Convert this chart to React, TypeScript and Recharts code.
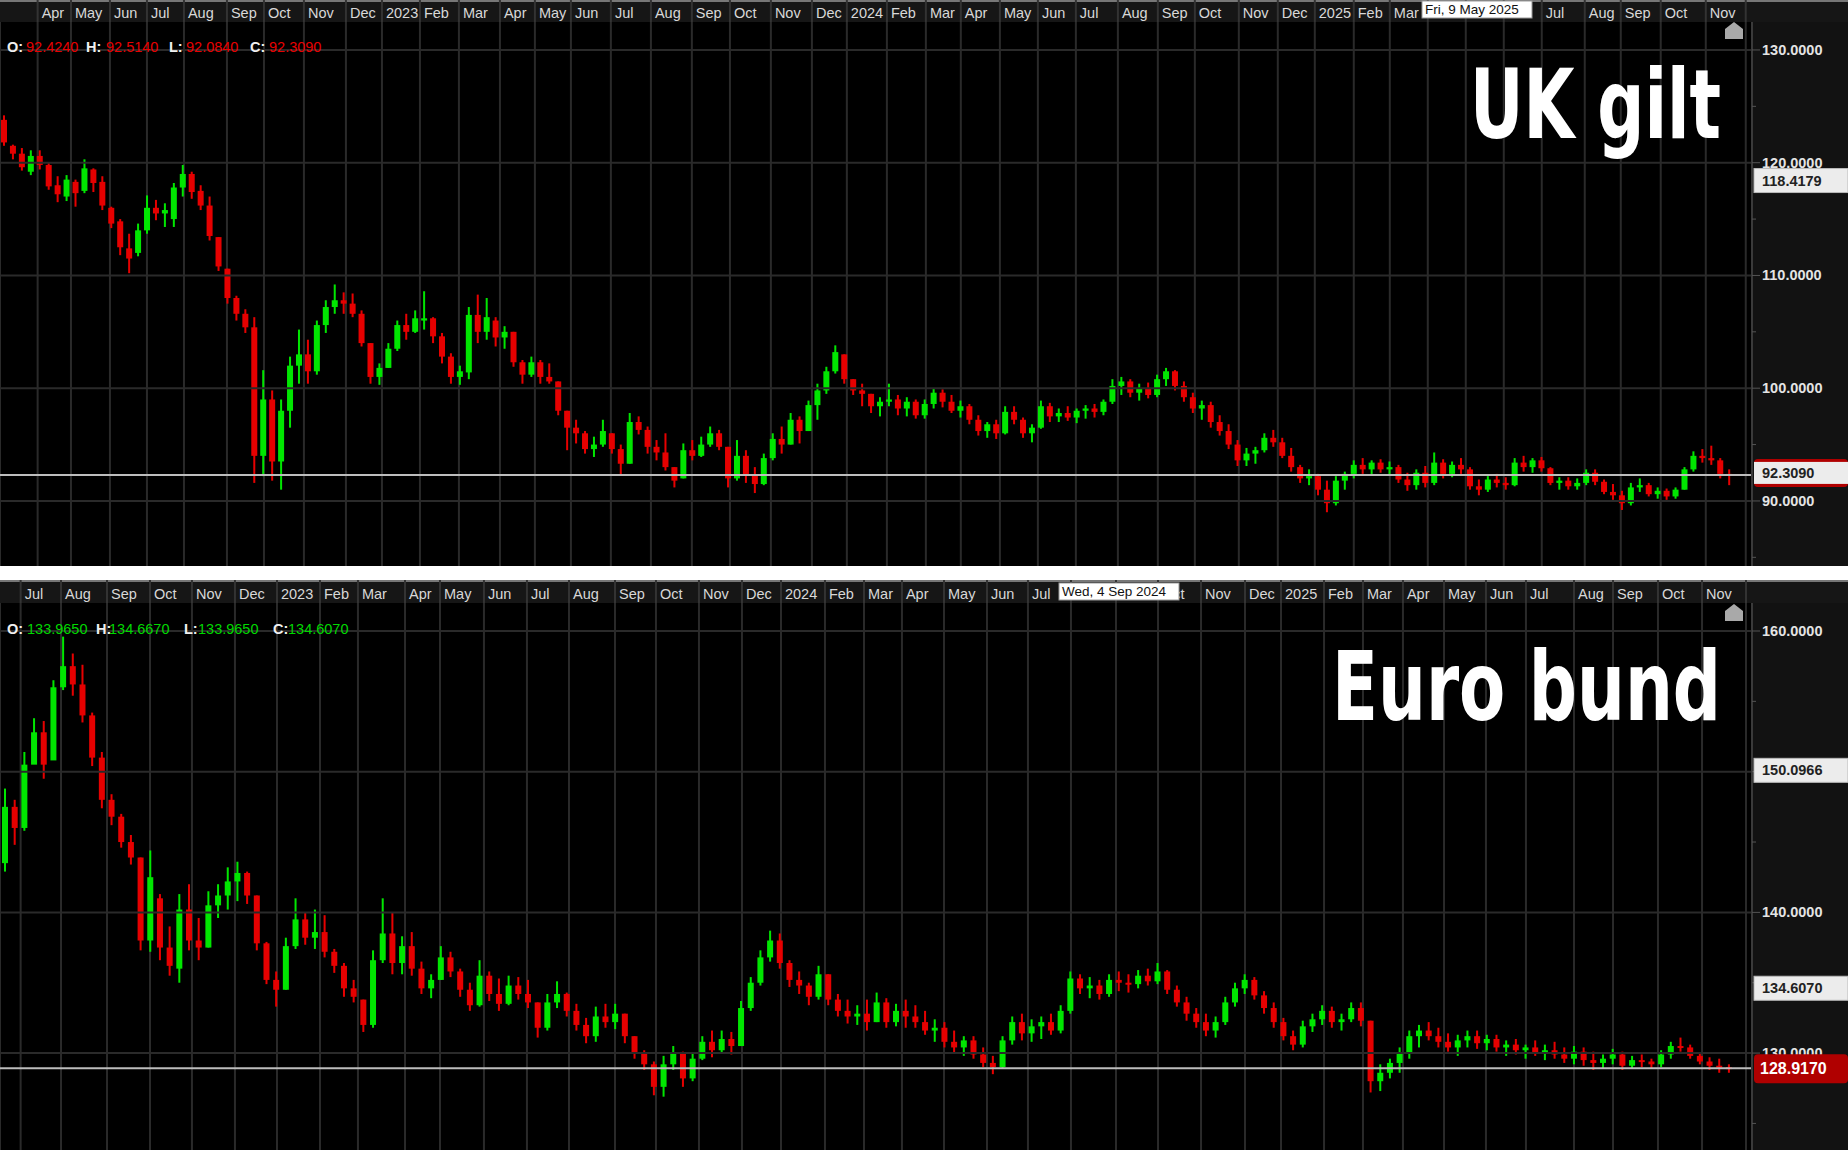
import React from 'react';
import { ComposedChart, Bar, XAxis, YAxis, CartesianGrid, ReferenceLine } from 'recharts';

// ---------- DATA (weekly OHLC: [open, high, low, close]) ----------
const giltBars: number[][] = [
  [123.8,124.2,121.5,121.8],[121.5,121.6,120.3,120.8],[120.8,121.3,119.3,119.6],[119.2,121.1,118.9,120.6],
  [120.6,121.1,119.4,119.8],[119.8,120.0,117.6,117.9],[118.0,118.8,116.5,117.2],[117.0,118.9,116.6,118.5],
  [118.3,118.5,116.1,117.3],[117.5,120.3,117.3,119.5],[119.4,119.5,117.4,118.2],[118.3,118.8,115.8,116.2],
  [116.0,116.1,114.2,114.6],[114.8,115.0,111.8,112.5],[112.4,113.7,110.2,111.5],[112.0,114.6,111.7,114.0],
  [114.0,117.1,113.7,116.0],[116.0,116.7,114.9,115.5],[115.5,116.4,114.3,115.8],[115.0,118.2,114.3,117.8],
  [117.8,119.8,117.0,119.0],[119.0,119.2,116.8,117.4],[117.5,118.0,115.8,116.2],[116.2,117.0,113.1,113.5],
  [113.4,113.4,110.4,110.8],[110.6,110.6,107.5,108.0],[108.0,108.2,106.0,106.6],[106.6,107.0,104.9,105.4],
  [105.4,106.3,91.6,94.0],[94.0,101.6,92.2,99.0],[99.0,99.8,91.8,93.5],[93.5,99.0,91.0,98.0],
  [98.0,102.8,96.5,102.0],[102.0,105.2,100.4,103.0],[103.0,104.3,100.4,101.5],[101.5,106.0,101.2,105.6],
  [105.6,107.8,104.9,107.2],[107.2,109.2,106.6,107.8],[107.8,108.5,106.6,107.5],[107.5,108.4,106.3,106.6],
  [106.6,106.9,103.7,104.0],[104.0,104.0,100.4,101.0],[101.0,102.2,100.3,101.8],[101.8,104.0,101.8,103.5],
  [103.5,106.0,103.3,105.6],[105.6,106.6,104.3,105.0],[105.0,106.9,104.9,106.2],[106.0,108.6,105.2,106.2],
  [106.2,106.3,104.0,104.6],[104.6,104.9,102.2,102.8],[102.8,103.1,100.4,101.0],[101.0,102.0,100.3,101.5],
  [101.4,107.2,100.8,106.5],[106.5,108.3,104.0,105.0],[105.0,108.0,104.3,106.3],[106.0,106.3,103.7,104.5],
  [104.5,105.5,103.5,105.0],[105.0,105.0,101.9,102.3],[102.3,102.5,100.4,101.2],[101.2,102.8,101.0,102.3],
  [102.3,102.5,100.4,101.0],[101.0,102.2,100.4,100.6],[100.6,100.6,97.6,98.0],[98.0,98.0,94.5,96.5],
  [96.5,97.2,95.1,96.0],[96.0,96.2,94.2,94.6],[94.6,95.7,93.9,95.0],[95.0,97.2,94.8,96.2],
  [96.0,96.0,94.2,94.6],[94.6,95.0,92.3,93.3],[93.3,97.8,93.3,97.0],[97.0,97.5,95.9,96.3],
  [96.3,96.6,94.2,94.8],[94.8,95.4,93.6,94.3],[94.3,96.0,92.7,93.0],[93.0,93.0,91.2,91.8],
  [92.0,95.1,92.0,94.5],[94.5,95.4,93.6,94.0],[94.0,95.7,93.9,95.0],[95.0,96.6,94.8,96.0],
  [96.0,96.3,94.5,94.8],[94.8,94.8,91.2,92.0],[92.0,95.4,91.8,94.0],[94.0,94.5,91.6,92.3],
  [92.3,93.0,90.7,91.5],[91.5,94.2,91.4,93.8],[93.8,96.0,93.6,95.5],[95.5,96.6,94.2,95.0],
  [95.0,97.8,95.0,97.2],[97.2,97.5,95.1,96.2],[96.2,98.9,96.2,98.5],[98.5,100.4,97.2,99.8],
  [99.8,101.9,99.5,101.5],[101.5,103.8,101.3,103.2],[103.0,103.0,100.4,100.8],[100.8,100.8,99.4,99.8],
  [99.8,100.4,98.4,99.5],[99.5,99.5,97.8,98.4],[98.4,99.2,97.5,98.8],[98.8,100.4,98.4,99.0],
  [99.0,99.4,97.6,98.2],[98.2,99.2,97.5,98.8],[98.8,99.0,97.3,97.6],[97.6,99.0,97.3,98.6],
  [98.6,100.0,98.2,99.6],[99.6,99.9,98.3,98.8],[98.8,99.4,97.8,98.0],[98.0,98.9,97.4,98.4],
  [98.4,98.6,96.8,97.2],[97.2,97.6,95.8,96.2],[96.2,97.0,95.6,96.8],[96.8,97.2,95.5,96.0],
  [96.0,98.4,95.9,97.9],[97.9,98.4,96.8,97.2],[97.2,97.4,95.6,96.0],[96.0,96.8,95.2,96.5],
  [96.5,98.9,96.4,98.4],[98.4,98.7,97.0,97.5],[97.5,98.2,97.0,97.8],[97.8,98.4,97.1,97.4],
  [97.4,98.2,96.9,98.0],[98.0,98.5,97.3,98.2],[98.2,98.6,97.4,97.9],[97.9,99.0,97.6,98.8],
  [98.8,100.8,98.6,100.2],[100.2,101.0,99.4,100.6],[100.6,100.8,99.2,99.6],[99.6,100.4,98.9,100.0],
  [100.0,100.5,99.1,99.4],[99.4,101.2,99.2,100.8],[100.8,101.8,100.2,101.5],[101.5,101.6,99.8,100.2],
  [100.2,100.6,98.8,99.2],[99.2,99.6,97.8,98.2],[98.2,98.9,97.2,98.5],[98.5,98.8,96.5,97.0],
  [97.0,97.6,95.8,96.2],[96.2,96.8,94.6,95.0],[95.0,95.4,93.1,93.6],[93.6,94.7,93.1,94.2],
  [94.2,94.8,93.3,94.5],[94.5,96.0,94.3,95.6],[95.6,96.3,94.8,95.2],[95.2,95.6,93.8,94.0],
  [94.0,94.7,92.6,93.0],[93.0,93.2,91.6,92.0],[92.0,92.8,91.4,92.2],[92.2,92.4,90.5,91.0],
  [91.0,91.8,89.0,89.8],[89.8,92.2,89.6,91.8],[91.8,92.6,91.0,92.4],[92.4,93.6,92.0,93.2],
  [93.2,93.8,92.4,92.8],[92.8,93.6,92.3,93.4],[93.4,93.7,92.5,92.8],[92.8,93.5,92.3,93.0],
  [93.0,93.2,91.6,91.9],[91.9,92.5,90.9,91.4],[91.4,92.8,91.0,92.5],[92.5,93.1,91.2,91.6],
  [91.6,94.3,91.4,93.4],[93.4,93.7,92.0,92.4],[92.4,93.5,92.1,93.2],[93.2,93.8,92.4,92.8],
  [92.8,93.0,91.0,91.3],[91.3,91.9,90.5,91.0],[91.0,92.2,90.8,91.9],[91.9,92.4,91.2,91.6],
  [91.6,92.1,91.0,91.4],[91.4,93.8,91.3,93.4],[93.4,94.0,92.6,93.0],[93.0,93.8,92.5,93.6],
  [93.6,93.9,92.6,92.9],[92.9,93.0,91.4,91.6],[91.6,92.1,91.0,91.8],[91.8,92.1,91.0,91.3],
  [91.3,92.0,91.0,91.6],[91.6,92.8,91.4,92.5],[92.5,92.8,91.4,91.7],[91.7,91.9,90.6,90.8],
  [90.8,91.5,90.1,90.5],[90.5,90.9,89.2,89.8],[89.8,91.6,89.6,91.2],[91.2,92.0,90.8,91.4],
  [91.4,91.6,90.4,90.6],[90.6,91.2,90.2,90.9],[90.9,91.1,90.1,90.4],[90.4,91.2,90.2,91.0],
  [91.0,93.0,91.0,92.8],[92.8,94.4,92.6,94.0],[94.0,94.6,93.4,93.8],[93.8,94.9,93.2,93.6],
  [93.6,93.8,92.0,92.4],[92.4,92.8,91.4,92.309],
];

const bundBars: number[][] = [
  [143.5,148.8,142.9,147.5],[147.5,148.0,144.8,146.0],[146.0,151.4,145.8,150.5],[150.5,153.8,150.8,152.8],
  [152.8,153.6,149.5,150.5],[150.8,156.5,151.0,156.0],[156.0,159.6,155.8,157.5],[157.5,158.4,155.4,156.2],
  [156.2,157.6,153.5,154.0],[154.0,154.2,150.4,151.0],[151.0,151.4,147.4,148.0],[148.0,148.4,146.2,146.8],
  [146.8,147.0,144.6,145.0],[145.0,145.5,143.4,143.9],[143.9,143.9,137.3,138.0],[138.0,144.4,137.2,142.5],
  [141.0,141.3,136.6,137.5],[137.5,139.0,135.5,136.2],[136.0,141.3,135.0,140.2],[140.2,142.0,137.3,138.0],
  [138.0,139.6,136.6,137.5],[137.5,141.5,137.5,140.5],[140.5,142.0,139.6,141.2],[141.2,143.2,140.2,142.2],
  [142.2,143.6,140.8,142.8],[142.8,142.9,140.6,141.2],[141.2,141.2,137.3,137.8],[137.8,137.9,134.9,135.2],
  [135.2,135.8,133.3,134.5],[134.5,138.2,134.5,137.6],[137.6,141.0,137.4,139.5],[139.5,140.0,137.7,138.2],
  [138.2,140.2,137.4,138.6],[138.6,139.8,136.8,137.2],[137.2,137.4,135.7,136.2],[136.2,136.4,134.0,134.6],
  [134.6,135.2,133.6,134.0],[133.8,133.8,131.5,132.0],[132.0,137.3,131.8,136.6],[136.6,141.0,136.4,138.5],
  [138.5,140.0,135.6,136.4],[136.4,138.3,135.6,137.6],[137.6,138.6,135.5,136.0],[136.0,136.5,134.2,134.6],
  [134.6,135.6,133.9,135.2],[135.2,137.6,135.2,136.8],[136.8,137.2,135.4,135.8],[135.8,136.0,134.0,134.5],
  [134.5,135.0,133.0,133.4],[133.4,136.6,133.3,135.5],[135.5,135.8,133.7,134.2],[134.2,135.3,133.0,133.5],
  [133.5,135.5,133.4,134.8],[134.8,135.4,133.8,134.2],[134.2,135.2,133.2,133.6],[133.6,133.6,131.1,131.8],
  [131.8,134.2,131.6,133.6],[133.6,135.1,133.2,134.2],[134.2,134.3,132.6,133.0],[133.0,133.5,131.6,132.0],
  [132.0,132.5,130.7,131.2],[131.2,133.3,130.8,132.6],[132.6,133.5,131.8,132.2],[132.2,133.5,131.7,132.8],
  [132.8,132.8,130.7,131.2],[131.2,131.2,129.6,130.0],[130.0,130.2,128.8,129.2],[129.2,129.4,127.0,127.6],
  [127.6,129.8,126.9,129.2],[129.2,130.5,128.8,130.0],[130.0,130.1,127.6,128.2],[128.2,130.0,128.0,129.6],
  [129.6,131.2,129.5,130.8],[130.8,131.6,129.7,130.2],[130.2,131.6,130.0,131.0],[131.0,131.5,129.9,130.5],
  [130.5,133.7,130.5,133.2],[133.2,135.4,133.0,135.0],[135.0,137.3,134.8,136.8],[136.8,138.7,136.5,138.0],
  [138.0,138.5,136.0,136.4],[136.4,136.6,134.7,135.2],[135.2,135.8,134.2,134.8],[134.8,135.0,133.4,134.0],
  [134.0,136.2,133.8,135.6],[135.6,135.6,133.4,133.8],[133.8,134.2,132.6,133.0],[133.0,133.8,132.1,132.6],
  [132.6,133.4,132.0,132.8],[132.8,133.8,131.6,132.2],[132.2,134.3,132.2,133.6],[133.6,133.9,131.8,132.2],
  [132.2,133.5,131.9,133.0],[133.0,133.8,131.8,132.6],[132.6,133.4,131.8,132.2],[132.2,133.0,131.3,131.6],
  [131.6,132.4,130.8,131.8],[131.8,132.2,130.4,130.8],[130.8,131.6,130.0,130.4],[130.4,131.2,129.8,130.9],
  [130.9,131.2,129.6,129.9],[129.9,130.4,129.0,129.3],[129.3,129.8,128.5,129.0],[129.0,131.2,128.9,130.9],
  [130.9,132.6,130.6,132.2],[132.2,132.8,130.9,131.4],[131.4,132.4,130.8,131.9],[131.9,132.6,131.0,132.2],
  [132.2,132.8,131.3,131.6],[131.6,133.4,131.4,133.0],[133.0,135.8,132.8,135.3],[135.3,135.6,134.2,134.6],
  [134.6,135.4,133.9,134.8],[134.8,135.2,133.8,134.2],[134.2,135.6,134.0,135.2],[135.2,135.8,134.4,135.0],
  [135.0,135.6,134.3,134.9],[134.9,135.9,134.6,135.5],[135.5,136.0,134.8,135.1],[135.1,136.4,134.9,135.8],
  [135.8,135.9,134.2,134.5],[134.5,134.8,133.3,133.6],[133.6,134.0,132.3,132.8],[132.8,133.2,131.8,132.2],
  [132.2,132.8,131.2,131.6],[131.6,132.6,131.1,132.2],[132.2,134.0,132.0,133.6],[133.6,135.0,133.3,134.6],
  [134.6,135.6,134.2,135.2],[135.2,135.4,133.8,134.1],[134.1,134.4,132.8,133.2],[133.2,133.6,131.8,132.2],
  [132.2,132.5,130.9,131.2],[131.2,131.6,130.2,130.6],[130.6,132.3,130.4,131.9],[131.9,132.8,131.5,132.4],
  [132.4,133.4,132.0,133.0],[133.0,133.3,131.8,132.2],[132.2,132.8,131.6,132.4],[132.4,133.6,132.2,133.2],
  [133.2,133.6,131.9,132.3],[132.3,132.3,127.2,128.0],[128.0,129.2,127.3,128.6],[128.6,129.6,128.2,129.3],
  [129.3,130.4,128.6,130.0],[130.0,131.6,129.6,131.2],[131.2,132.0,130.4,131.6],[131.6,132.2,130.9,131.2],
  [131.2,131.8,130.4,130.8],[130.8,131.4,130.1,130.4],[130.4,131.3,129.8,130.9],[130.9,131.6,130.4,131.2],
  [131.2,131.6,130.3,130.7],[130.7,131.3,130.2,131.0],[131.0,131.3,130.1,130.4],[130.4,130.9,129.8,130.6],
  [130.6,131.0,129.9,130.2],[130.2,130.6,129.6,130.4],[130.4,130.9,129.8,130.0],[130.0,130.6,129.5,130.2],
  [130.2,130.8,129.6,129.9],[129.9,130.4,129.3,129.6],[129.6,130.5,129.2,130.1],[130.1,130.4,129.1,129.5],
  [129.5,130.1,128.8,129.3],[129.3,129.9,128.9,129.6],[129.6,130.3,129.2,129.9],[129.9,130.1,128.8,129.1],
  [129.1,129.8,128.9,129.5],[129.5,129.9,129.0,129.4],[129.4,129.6,128.9,129.2],[129.2,130.2,129.0,129.9],
  [129.9,130.8,129.6,130.5],[130.5,131.1,130.1,130.4],[130.4,130.6,129.6,129.8],[129.8,130.0,129.2,129.4],
  [129.4,129.7,128.8,129.1],[129.1,129.6,128.6,129.0],[129.0,129.2,128.6,128.917],
];

// month starts, in weeks from the left edge of each chart ('' = hidden under the date box or no room)
const giltMonthTicks = [4.21,7.94,12.3,16.44,20.58,25.39,29.53,34.0,38.7,42.73,46.98,51.34,55.93,59.84,63.87,68.34,72.82,77.4,81.66,86.24,90.83,94.74,99.22,103.58,107.49,111.86,116.11,120.36,125.06,129.53,133.67,138.59,142.95,147.09,151.45,155.48,159.73,163.98,168.23,172.48,177.29,181.32,185.79,190.83,195.3];
const giltMonthLabels = ['Apr','May','Jun','Jul','Aug','Sep','Oct','Nov','Dec','2023','Feb','Mar','Apr','May','Jun','Jul','Aug','Sep','Oct','Nov','Dec','2024','Feb','Mar','Apr','May','Jun','Jul','Aug','Sep','Oct','Nov','Dec','2025','Feb','Mar','','','','Jul','Aug','Sep','Oct','Nov',''];
const bundMonthTicks = [2.13,6.3,11.05,15.49,19.82,24.26,28.6,33.04,36.96,41.82,45.43,49.97,54.41,58.75,63.5,67.73,72.17,76.61,80.64,85.18,89.21,93.13,97.47,101.91,106.14,110.58,115.23,119.57,124.01,128.55,132.27,136.71,140.73,144.86,149.1,153.43,157.56,162.52,166.55,171.19,175.74,180.28];
const bundMonthLabels = ['Jul','Aug','Sep','Oct','Nov','Dec','2023','Feb','Mar','Apr','May','Jun','Jul','Aug','Sep','Oct','Nov','Dec','2024','Feb','Mar','Apr','May','Jun','Jul','','','Oct','Nov','Dec','2025','Feb','Mar','Apr','May','Jun','Jul','Aug','Sep','Oct','Nov',''];

const giltGridValues = [90,100,110,120,130];
const giltAxisTicks = [85,90,95,100,105,110,115,120,125,130];
const bundGridValues = [130,140,150,160];
const bundAxisTicks = [125,130,135,140,145,150,155,160];

const giltMarkers = [{ value: 118.4179, kind: 'plain' }, { value: 92.309, kind: 'lastBorder' }];
const bundMarkers = [{ value: 150.0966, kind: 'plain' }, { value: 134.607, kind: 'plain' }, { value: 128.917, kind: 'lastRed' }];

const giltOHLC = ['92.4240','92.5140','92.0840','92.3090'];
const bundOHLC = ['133.9650','134.6670','133.9650','134.6070'];

// ---------- STYLE ----------
const W = 1848;
const AXIS_W = 96;
const PLOT_R = W - AXIS_W;
const GREEN = '#00e600';
const RED = '#e60000';
const GRID = '#2a2a2a';
const FONT = "'Liberation Sans', Arial, Helvetica, sans-serif";

const Candle = (props: any) => {
  const { x, y, width, height, payload } = props;
  if (!payload || x == null || y == null) return null;
  const { o, h, l, c } = payload;
  const yTop = Math.min(y, y + height);
  const yBot = Math.max(y, y + height);
  const k = h - l > 0 ? (yBot - yTop) / (h - l) : 0;
  const cx = x + width / 2;
  const yO = yTop + (h - o) * k;
  const yC = yTop + (h - c) * k;
  const col = c >= o ? GREEN : RED;
  const bTop = Math.min(yO, yC);
  const bH = Math.max(Math.abs(yO - yC), 2);
  return (
    <g>
      <rect x={cx - 1} y={yTop} width={2} height={Math.max(yBot - yTop, 1)} fill={col} />
      <rect x={cx - 3} y={bTop} width={6} height={bH} fill={col} />
    </g>
  );
};

const makeMonthTick = (ticks: number[], labels: string[], headerH: number, baseline: number) => (props: any) => {
  const { x, payload } = props;
  const idx = ticks.indexOf(payload.value);
  const label = idx >= 0 ? labels[idx] : '';
  return (
    <g>
      <line x1={x} x2={x} y1={0} y2={headerH} stroke="#333" strokeWidth={2} />
      {label ? (
        <text x={x + 4} y={baseline} fill="#d8d8d8" fontSize={14.5} fontFamily={FONT} textAnchor="start">{label}</text>
      ) : null}
    </g>
  );
};

const makePriceTick = (markers: { value: number; kind: string }[]) => (props: any) => {
  const { y, payload } = props;
  const v = payload.value;
  const m = markers.find((mm) => mm.value === v);
  if (m) {
    if (m.kind === 'lastRed') {
      return (
        <g>
          <rect x={PLOT_R + 2} y={y - 14} width={AXIS_W - 2} height={29} rx={4} fill="#b00000" />
          <text x={PLOT_R + 8} y={y + 6} fill="#ffffff" fontSize={16} fontWeight="bold" fontFamily={FONT}>{v.toFixed(4)}</text>
        </g>
      );
    }
    if (m.kind === 'lastBorder') {
      return (
        <g>
          <rect x={PLOT_R + 2} y={y - 16} width={AXIS_W - 2} height={28} rx={4} fill="#b00000" />
          <rect x={PLOT_R + 2} y={y - 13} width={AXIS_W - 2} height={22} fill="#ececec" />
          <text x={PLOT_R + 10} y={y + 3} fill="#222" fontSize={14.5} fontWeight="bold" fontFamily={FONT}>{v.toFixed(4)}</text>
        </g>
      );
    }
    return (
      <g>
        <rect x={PLOT_R + 2} y={y - 12} width={AXIS_W - 2} height={24} fill="#ececec" stroke="#bbb" strokeWidth={1} />
        <text x={PLOT_R + 10} y={y + 5} fill="#222" fontSize={14.5} fontWeight="bold" fontFamily={FONT}>{v.toFixed(4)}</text>
      </g>
    );
  }
  if (v % 10 === 0) {
    return (
      <g>
        <line x1={PLOT_R} x2={PLOT_R + 8} y1={y} y2={y} stroke="#555" strokeWidth={1} />
        <text x={PLOT_R + 10} y={y + 5} fill="#e4e4e4" fontSize={14.5} fontWeight="bold" fontFamily={FONT}>{v.toFixed(4)}</text>
      </g>
    );
  }
  return <line x1={PLOT_R} x2={PLOT_R + 4} y1={y} y2={y} stroke="#555" strokeWidth={1} />;
};

type PanelProps = {
  bars: number[][];
  ticks: number[];
  labels: string[];
  xMax: number;
  yDomain: [number, number];
  grid: number[];
  axisTicks: number[];
  markers: { value: number; kind: string }[];
  lastValue: number;
  top: number;
  height: number;
  headerH: number;
  baseline: number;
  ohlc: string[];
  ohlcColor: string;
  ohlcX: number[];
  ohlcY: number;
  title: string;
  titleW: number;
  titleY: number;
  tip: string;
  tipX: number;
  tipW: number;
  tipY: number;
  houseY: number;
};

function Panel(p: PanelProps) {
  const data = p.bars.map((b, i) => ({ x: i + 0.5, o: b[0], h: b[1], l: b[2], c: b[3], range: [b[2], b[1]] }));
  const yTicks = [...p.axisTicks, ...p.markers.map((m) => m.value)];
  const MonthTick = makeMonthTick(p.ticks, p.labels, p.headerH, p.baseline);
  const PriceTick = makePriceTick(p.markers);
  const names = ['O:', 'H:', 'L:', 'C:'];
  return (
    <div style={{ position: 'absolute', left: 0, top: p.top, width: W, height: p.height, background: '#000', overflow: 'hidden' }}>
      <div style={{ position: 'absolute', left: 0, top: 0, width: W, height: p.headerH, background: '#161616', borderTop: '2px solid #777', boxSizing: 'border-box' }} />
      <div style={{ position: 'absolute', left: PLOT_R, top: p.headerH, width: AXIS_W, height: p.height - p.headerH, background: '#121212' }} />
      <div style={{ position: 'absolute', left: 0, top: 0 }}>
        <ComposedChart width={W} height={p.height} data={data} margin={{ top: 0, right: 0, bottom: 0, left: 0 }}>
          <CartesianGrid vertical horizontal={false} stroke={GRID} strokeWidth={2} />
          <XAxis
            type="number"
            dataKey="x"
            orientation="top"
            domain={[0, p.xMax]}
            ticks={p.ticks}
            interval={0}
            height={p.headerH}
            axisLine={false}
            tickLine={false}
            tick={<MonthTick />}
            allowDataOverflow
          />
          <YAxis
            type="number"
            orientation="right"
            domain={p.yDomain}
            ticks={yTicks}
            interval={0}
            width={AXIS_W}
            axisLine={{ stroke: '#3a3a3a', strokeWidth: 2 }}
            tickLine={false}
            tick={<PriceTick />}
            allowDataOverflow
          />
          {p.grid.map((g) => (
            <ReferenceLine key={'g' + g} y={g} stroke={GRID} strokeWidth={2} />
          ))}
          <ReferenceLine y={p.lastValue} stroke="#bdbdbd" strokeWidth={2} />
          <Bar dataKey="range" barSize={6} shape={<Candle />} isAnimationActive={false} />
        </ComposedChart>
      </div>
      <svg width={W} height={p.height} style={{ position: 'absolute', left: 0, top: 0, pointerEvents: 'none' }}>
        {names.map((n, i) => (
          <g key={n}>
            <text x={p.ohlcX[i * 2]} y={p.ohlcY} fill="#f0f0f0" fontSize={14.5} fontWeight="bold" fontFamily={FONT}>{n}</text>
            <text x={p.ohlcX[i * 2 + 1]} y={p.ohlcY} fill={p.ohlcColor} fontSize={14.5} fontFamily={FONT}>{p.ohlc[i]}</text>
          </g>
        ))}
        <g transform={`translate(1721, ${p.titleY}) scale(1, 1.33)`}>
          <text
            x={0}
            y={0}
            textAnchor="end"
            fill="#ffffff"
            fontSize={73}
            fontWeight="bold"
            fontFamily="'DejaVu Sans Condensed', 'DejaVu Sans', sans-serif"
            textLength={p.titleW}
            lengthAdjust="spacingAndGlyphs"
          >
            {p.title}
          </text>
        </g>
        <rect x={p.tipX} y={p.tipY} width={p.tipW} height={17} fill="#ffffff" stroke="#999" strokeWidth={1} />
        <text x={p.tipX + 3} y={p.tipY + 13} fill="#111" fontSize={13.5} fontFamily={FONT}>{p.tip}</text>
        <polygon
          points={`1734,${p.houseY} 1743,${p.houseY + 7} 1743,${p.houseY + 17} 1725,${p.houseY + 17} 1725,${p.houseY + 7}`}
          fill="#a9a9a9"
        />
      </svg>
    </div>
  );
}

export default function App() {
  return (
    <div style={{ position: 'absolute', left: 0, top: 0, width: W, height: 1150, background: '#ffffff', overflow: 'hidden' }}>
      <Panel
        bars={giltBars}
        ticks={giltMonthTicks}
        labels={giltMonthLabels}
        xMax={196}
        yDomain={[84.23, 132.48]}
        grid={giltGridValues}
        axisTicks={giltAxisTicks}
        markers={giltMarkers}
        lastValue={92.309}
        top={0}
        height={566}
        headerH={22}
        baseline={18}
        ohlc={giltOHLC}
        ohlcColor="#e80000"
        ohlcX={[7, 26, 86, 106, 169, 186, 250, 269]}
        ohlcY={52}
        title="UK gilt"
        titleW={251}
        titleY={138}
        tip="Fri, 9 May 2025"
        tipX={1422}
        tipW={110}
        tipY={1}
        houseY={22}
      />
      <Panel
        bars={bundBars}
        ticks={bundMonthTicks}
        labels={bundMonthLabels}
        xMax={180.9}
        yDomain={[123.11, 161.99]}
        grid={bundGridValues}
        axisTicks={bundAxisTicks}
        markers={bundMarkers}
        lastValue={128.917}
        top={580}
        height={570}
        headerH={23}
        baseline={19}
        ohlc={bundOHLC}
        ohlcColor="#00d800"
        ohlcX={[7, 27, 96, 109, 184, 198, 273, 288]}
        ohlcY={54}
        title="Euro bund"
        titleW={389}
        titleY={140}
        tip="Wed, 4 Sep 2024"
        tipX={1059}
        tipW={120}
        tipY={3}
        houseY={24}
      />
    </div>
  );
}
